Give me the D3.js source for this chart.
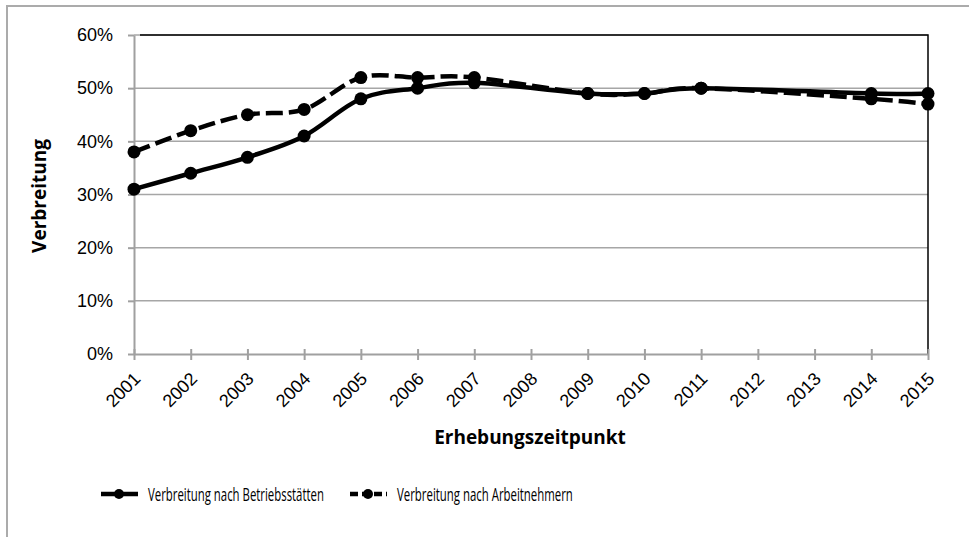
<!DOCTYPE html>
<html>
<head>
<meta charset="utf-8">
<script src="https://cdn.jsdelivr.net/npm/d3@7"></script>
<style>
  body { margin: 0; background: #fff; }
  svg { font-family: "Open Sans", sans-serif; }
</style>
</head>
<body>
<svg id="chart"></svg>
<script>
var w = 969;
var h = 537;

var years = ['2001', '2002', '2003', '2004', '2005', '2006', '2007', '2008',
  '2009', '2010', '2011', '2012', '2013', '2014', '2015'];
// years with a survey (2008, 2012, 2013 missing)
var surveyYears = ['2001', '2002', '2003', '2004', '2005', '2006', '2007',
  '2009', '2010', '2011', '2014', '2015'];
var betriebe = [31, 34, 37, 41, 48, 50, 51, 49, 49, 50, 49, 49];
var arbeitnehmer = [38, 42, 45, 46, 52, 52, 52, 49, 49, 50, 48, 47];
var yTicks = [0, 10, 20, 30, 40, 50, 60];
var seriesNames = ['Verbreitung nach Betriebsstätten', 'Verbreitung nach Arbeitnehmern'];

var pLeft = 134, pRight = 928, pTop = 35, pBottom = 354;

var svg = d3.select('#chart').attr('width', w).attr('height', h);

// outer frame (cropped on right / bottom)
svg.append('rect')
  .attr('x', 7).attr('y', 6)
  .attr('width', w + 20).attr('height', h + 20)
  .attr('fill', 'none').attr('stroke', '#ababab').attr('stroke-width', 2);

var x = d3.scalePoint().domain(years).range([pLeft, pRight]);
var y = d3.scaleLinear().domain([0, 60]).range([pBottom, pTop]);

// gridlines
svg.append('g').selectAll('line')
  .data(yTicks.slice(1))
  .enter()
  .append('line')
  .attr('x1', pLeft).attr('x2', pRight)
  .attr('y1', function (d) { return y(d); })
  .attr('y2', function (d) { return y(d); })
  .attr('stroke', '#a6a6a6').attr('stroke-width', 1.5);

// plot border top/right
svg.append('path')
  .attr('d', 'M' + (pLeft + 6) + ',' + pTop + 'H' + pRight + 'V' + pBottom)
  .attr('fill', 'none').attr('stroke', '#000').attr('stroke-width', 1.5);

// y axis
var yAxis = svg.append('g')
  .attr('transform', 'translate(' + pLeft + ',0)')
  .call(d3.axisLeft(y).tickValues(yTicks).tickSize(6).tickSizeOuter(0).tickPadding(15)
    .tickFormat(function (d) { return d + '%'; }));
yAxis.select('.domain').attr('stroke', '#a0a0a0').attr('stroke-width', 2);
yAxis.selectAll('.tick line').attr('stroke', '#a0a0a0').attr('stroke-width', 2);
yAxis.selectAll('text').attr('font-size', '18px').attr('fill', '#000');

// x axis
var xAxis = svg.append('g')
  .attr('transform', 'translate(0,' + pBottom + ')')
  .call(d3.axisBottom(x).tickSize(6).tickSizeOuter(0));
xAxis.select('.domain').attr('stroke', '#a0a0a0').attr('stroke-width', 2);
xAxis.selectAll('.tick line').attr('stroke', '#a0a0a0').attr('stroke-width', 2).attr('y1', -5);
xAxis.selectAll('text')
  .attr('font-size', '18px').attr('fill', '#000')
  .attr('text-anchor', 'end')
  .attr('y', 0).attr('dy', null)
  .attr('transform', 'translate(7,26) rotate(-45)');

// axis titles
svg.append('text')
  .text('Verbreitung')
  .attr('transform', 'translate(46,196) rotate(-90)')
  .attr('text-anchor', 'middle')
  .attr('font-size', '19px').attr('font-weight', 'bold');

svg.append('text')
  .text('Erhebungszeitpunkt')
  .attr('x', 530).attr('y', 444)
  .attr('text-anchor', 'middle')
  .attr('font-size', '19px').attr('font-weight', 'bold');

// lines
var line = d3.line()
  .x(function (d) { return x(d.year); })
  .y(function (d) { return y(d.value); })
  .curve(d3.curveCardinal.tension(0));

var series = [betriebe, arbeitnehmer].map(function (vals) {
  return vals.map(function (v, i) { return { year: surveyYears[i], value: v }; });
});
var dashes = [null, '17,6'];

series.forEach(function (s, k) {
  svg.append('path')
    .datum(s)
    .attr('d', line)
    .attr('fill', 'none')
    .attr('stroke', '#000')
    .attr('stroke-width', 4.5)
    .attr('stroke-dasharray', dashes[k]);
  svg.append('g').selectAll('circle')
    .data(s)
    .enter()
    .append('circle')
    .attr('cx', function (d) { return x(d.year); })
    .attr('cy', function (d) { return y(d.value); })
    .attr('r', 6.5)
    .attr('fill', '#000');
});

// legend (text squeezed horizontally like the condensed original font)
var legendX = [101, 350];
seriesNames.forEach(function (name, k) {
  var g = svg.append('g').attr('transform', 'translate(' + legendX[k] + ',494)');
  g.append('line')
    .attr('x1', 0).attr('x2', 37)
    .attr('stroke', '#000').attr('stroke-width', 4.5)
    .attr('stroke-dasharray', k ? '8,4' : null);
  g.append('circle').attr('cx', 18).attr('r', 5).attr('fill', '#000');
  var t = g.append('text')
    .text(name)
    .attr('y', 7)
    .attr('font-size', '19px');
  var sx = 176 / t.node().getComputedTextLength();
  t.attr('transform', 'translate(47,0) scale(' + sx + ',1)');
});
</script>
</body>
</html>
